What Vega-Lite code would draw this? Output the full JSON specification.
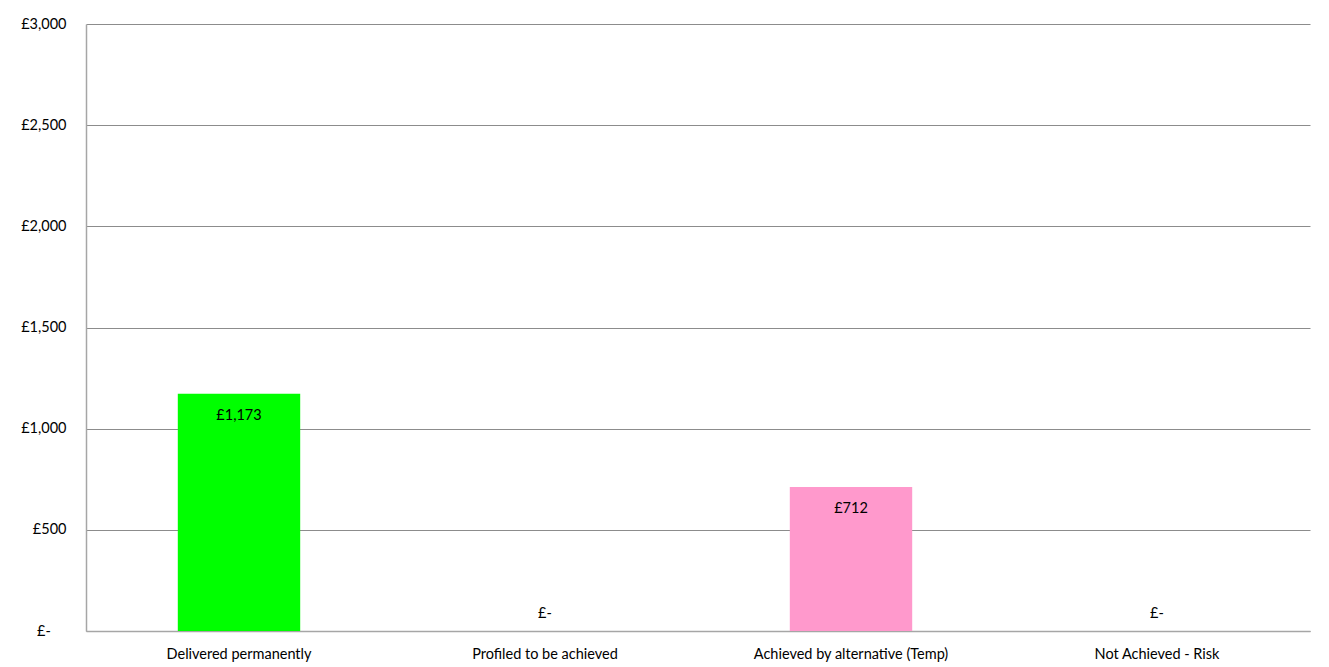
{
  "$schema": "https://vega.github.io/schema/vega-lite/v6.json",
  "width": 1224,
  "height": 607,
  "autosize": {"type": "none"},
  "padding": {"left": 86, "top": 24, "right": 19, "bottom": 36},
  "background": "white",
  "config": {
    "view": {"stroke": null},
    "font": "Lato",
    "axis": {"labelFont": "Lato", "labelFontSize": 14.5, "labelColor": "#000000", "labelLimit": 0}
  },
  "data": {
    "values": [
      {"category": "Delivered permanently", "value": 1173, "label": "£1,173"},
      {"category": "Profiled to be achieved", "value": 0, "label": "£-"},
      {"category": "Achieved by alternative (Temp)", "value": 712, "label": "£712"},
      {"category": "Not Achieved - Risk", "value": 0, "label": "£-"}
    ]
  },
  "encoding": {
    "x": {
      "field": "category", "type": "nominal", "sort": null,
      "scale": {"paddingInner": 0.6, "paddingOuter": 0.3},
      "axis": {"title": null, "labelAngle": 0, "ticks": false, "domainColor": "#a6a6a6", "domainWidth": 1.5, "labelPadding": 16, "labelLimit": 0}
    },
    "y": {
      "field": "value", "type": "quantitative",
      "scale": {"domain": [0, 3000], "nice": false},
      "axis": {"title": null, "values": [0, 500, 1000, 1500, 2000, 2500, 3000], "ticks": false,
        "labelExpr": "datum.value == 0 ? '£-\u2007\u2002\u200b' : '£' + format(datum.value, ',')",
        "labelPadding": 20, "grid": true, "gridColor": "#8c8c8c", "gridWidth": 1,
        "domainColor": "#a6a6a6", "domainWidth": 1.5}
    }
  },
  "layer": [
    {
      "mark": {"type": "bar"},
      "encoding": {
        "color": {"field": "category", "type": "nominal", "legend": null,
          "scale": {"domain": ["Delivered permanently", "Profiled to be achieved", "Achieved by alternative (Temp)", "Not Achieved - Risk"],
                    "range": ["#00ff00", "#ff99cc", "#ff99cc", "#ff99cc"]}}
      }
    },
    {
      "transform": [{"filter": "datum.value > 0"}],
      "mark": {"type": "text", "baseline": "middle", "dy": 22, "fontSize": 14.5, "font": "Lato", "color": "#000000"},
      "encoding": {"text": {"field": "label"}}
    },
    {
      "transform": [{"filter": "datum.value == 0"}],
      "mark": {"type": "text", "baseline": "middle", "dy": -17, "fontSize": 14.5, "font": "Lato", "color": "#000000"},
      "encoding": {"text": {"field": "label"}}
    }
  ]
}
